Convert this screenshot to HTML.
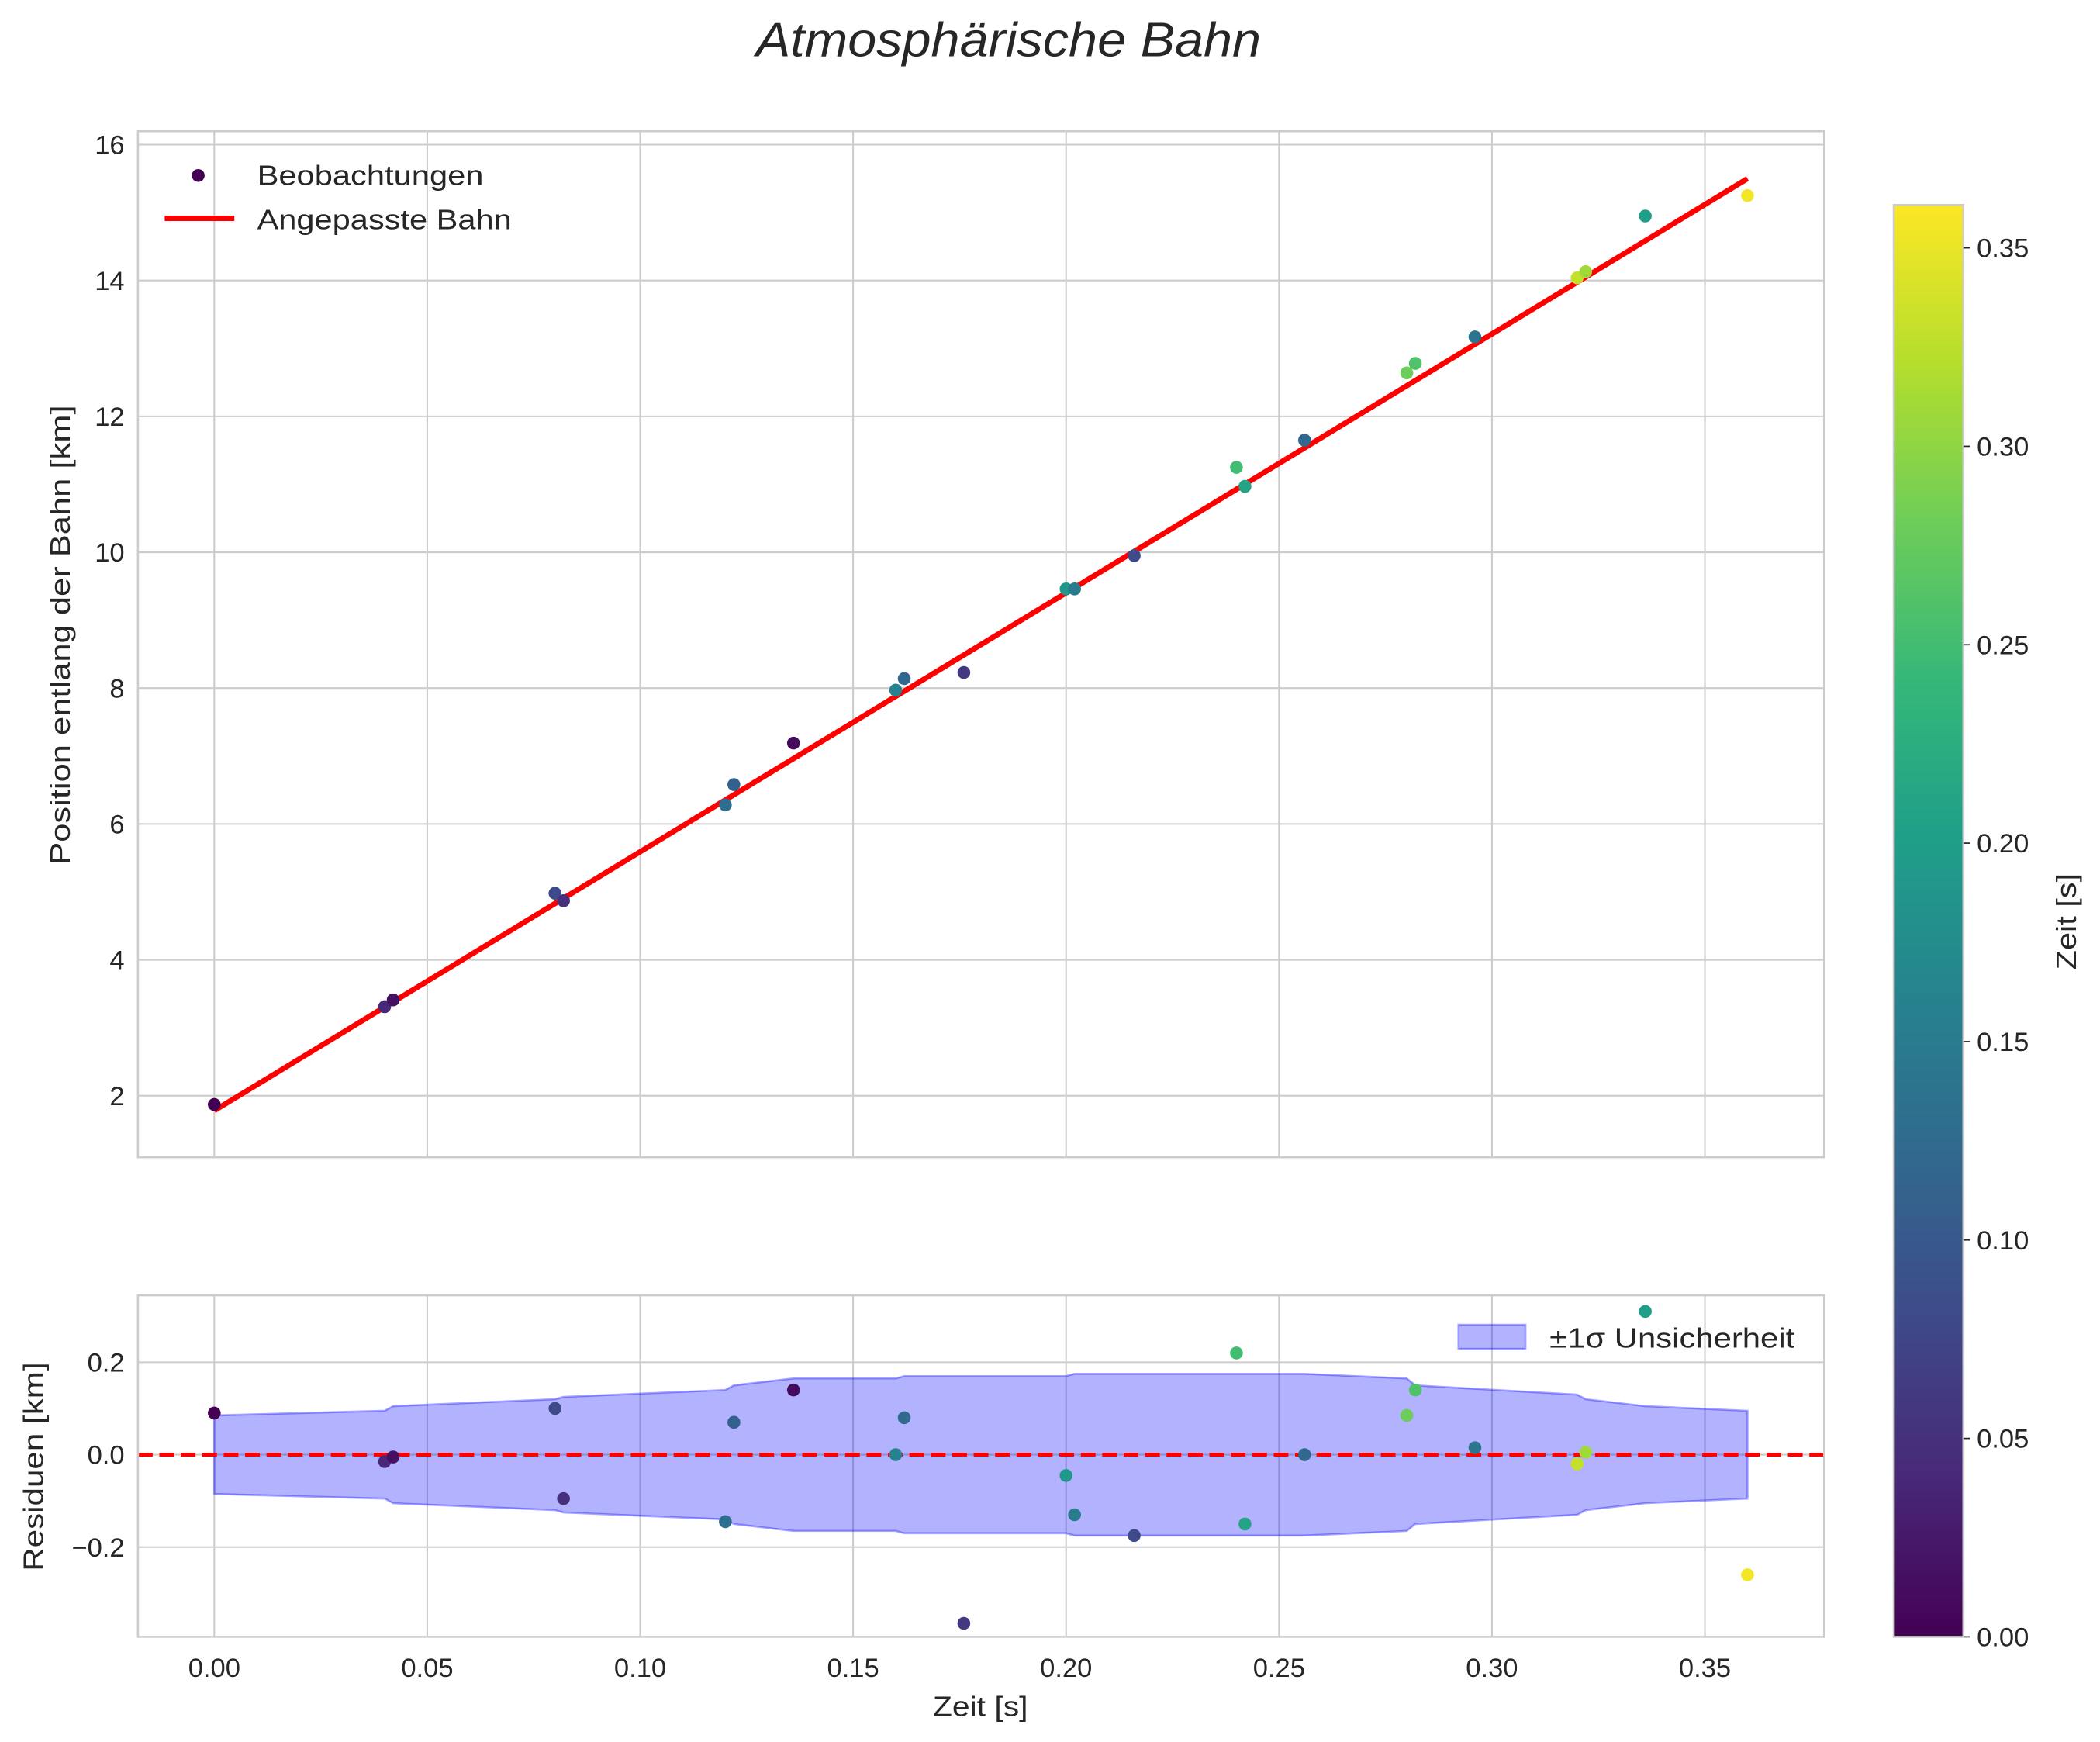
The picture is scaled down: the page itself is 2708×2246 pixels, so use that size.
<!DOCTYPE html>
<html><head><meta charset="utf-8"><style>
html,body{margin:0;padding:0;background:#fff;}
svg{display:block;font-family:"Liberation Sans",sans-serif;}
</style></head><body>
<svg id="chart" width="2708" height="2246" viewBox="0 0 1568 1300.5" preserveAspectRatio="none" xmlns="http://www.w3.org/2000/svg">
<text x="753" y="42" text-anchor="middle" font-size="36" font-style="italic" fill="#262626" textLength="377" lengthAdjust="spacingAndGlyphs">Atmosphärische Bahn</text>
<g id="main"></g>
<g id="resid"></g>
<g id="cbar"></g>
</svg>
<script>
const times=[0.000,0.040,0.042,0.080,0.082,0.120,0.122,0.136,0.160,0.162,0.176,0.200,0.202,0.216,0.240,0.242,0.256,0.280,0.282,0.296,0.320,0.322,0.336,0.360];
const positions=[1.87,3.31,3.41,4.98,4.87,6.28,6.58,7.19,7.97,8.14,8.23,9.46,9.46,9.95,11.25,10.97,11.65,12.64,12.78,13.17,14.04,14.13,14.95,15.25];
const residuals=[0.09,-0.015,-0.005,0.10,-0.095,-0.145,0.07,0.14,0.00,0.08,-0.365,-0.045,-0.13,-0.175,0.22,-0.15,0.00,0.085,0.14,0.015,-0.02,0.005,0.31,-0.26];
const colorVals=[0.0,0.04,0.015,0.08,0.05,0.13,0.11,0.01,0.16,0.12,0.06,0.19,0.15,0.08,0.25,0.21,0.12,0.28,0.26,0.14,0.33,0.31,0.20,0.355];
const fitT=[0,0.36];
const fitY=[1.78,15.5];
const bandT=[0,0.04,0.042,0.08,0.082,0.12,0.122,0.136,0.16,0.162,0.2,0.202,0.256,0.28,0.282,0.32,0.322,0.336,0.36];
const bandW=[0.085,0.095,0.105,0.12,0.125,0.14,0.15,0.165,0.165,0.17,0.17,0.175,0.175,0.165,0.15,0.13,0.12,0.105,0.095];
const xTicks=[0,0.05,0.1,0.15,0.2,0.25,0.3,0.35];
const yTicks=[2,4,6,8,10,12,14,16];
const rTicks=[-0.2,0,0.2];
const cTicks=[0,0.05,0.1,0.15,0.2,0.25,0.3,0.35];
const cMax=0.361;

const NS='http://www.w3.org/2000/svg';
function mk(p,tag,at,txt){const e=document.createElementNS(NS,tag);for(const k in at)e.setAttribute(k,at[k]);if(txt!==undefined)e.textContent=txt;p.appendChild(e);return e;}
const X=v=>160+v*3180;
const Y=v=>818-(v-2)*50.714;
const R=v=>1086-v*345;
const C=v=>1222-v*2962.7;
const VIR=[[68,1,84],[72,40,120],[62,74,137],[49,104,142],[38,130,142],[31,158,137],[53,183,121],[109,205,89],[180,222,44],[253,231,37]];
function vir(t){t=Math.max(0,Math.min(1,t))*9;const i=Math.min(8,Math.floor(t)),f=t-i;const a=VIR[i],b=VIR[i+1];return 'rgb('+a.map((c,k)=>Math.round(c+(b[k]-c)*f)).join(',')+')';}
const fmt2=v=>v.toFixed(2);
const TF=20;

// main
const m=document.getElementById('main');
const L=103,Rr=1362;
xTicks.forEach(v=>{const g=mk(m,'line',{x1:X(v),x2:X(v),y1:98,y2:864,stroke:'#cccccc','stroke-width':1.2});});
yTicks.forEach(v=>{const g=mk(m,'line',{x1:L,x2:Rr,y1:Y(v),y2:Y(v),stroke:'#cccccc','stroke-width':1.2});
const t=mk(m,'text',{x:93,y:Y(v)+7,'text-anchor':'end','font-size':TF,fill:'#262626'},String(v));});
let fl=mk(m,'line',{x1:X(fitT[0]),y1:Y(fitY[0]),x2:X(fitT[1]),y2:Y(fitY[1]),stroke:'#ff0000','stroke-width':4});

times.forEach((t,i)=>{const c=mk(m,'circle',{cx:X(t),cy:Y(positions[i]),r:4.8,fill:vir(colorVals[i]/cMax)});});
mk(m,'rect',{x:L,y:98,width:Rr-L,height:766,fill:'none',stroke:'#cccccc','stroke-width':1.5});
let yl=mk(m,'text',{transform:'translate(52,474) rotate(-90)','text-anchor':'middle','font-size':21,fill:'#262626',textLength:343,lengthAdjust:'spacingAndGlyphs'},'Position entlang der Bahn [km]');

let lg=mk(m,'g',{});
mk(lg,'circle',{cx:148,cy:131,r:4.8,fill:'#440154'});
mk(lg,'text',{x:192,y:138,'font-size':21,fill:'#262626',textLength:169,lengthAdjust:'spacingAndGlyphs'},'Beobachtungen');
mk(lg,'line',{x1:123,x2:175,y1:163,y2:163,stroke:'#ff0000','stroke-width':4});
mk(lg,'text',{x:192,y:171,'font-size':21,fill:'#262626',textLength:190,lengthAdjust:'spacingAndGlyphs'},'Angepasste Bahn');

// residuals
const r=document.getElementById('resid');
xTicks.forEach(v=>{const g=mk(r,'line',{x1:X(v),x2:X(v),y1:967,y2:1222,stroke:'#cccccc','stroke-width':1.2});
const t=mk(r,'text',{x:X(v),y:1252,'text-anchor':'middle','font-size':TF,fill:'#262626'},fmt2(v));});
rTicks.forEach(v=>{const g=mk(r,'line',{x1:L,x2:Rr,y1:R(v),y2:R(v),stroke:'#cccccc','stroke-width':1.2});
const t=mk(r,'text',{x:93,y:R(v)+7,'text-anchor':'end','font-size':TF,fill:'#262626'},(v<0?'\u2212':'')+Math.abs(v).toFixed(1));});
let pts=bandT.map((t,i)=>X(t)+','+R(bandW[i])).concat(bandT.slice().reverse().map((t,i)=>X(t)+','+R(-bandW[bandT.length-1-i])));
let band=mk(r,'polygon',{points:pts.join(' '),fill:'rgba(0,0,255,0.3)',stroke:'rgba(0,0,255,0.35)','stroke-width':1.5});

let zl=mk(r,'line',{x1:L,x2:Rr,y1:R(0),y2:R(0),stroke:'#ff0000','stroke-width':2.8,'stroke-dasharray':'11,5'});

times.forEach((t,i)=>{const c=mk(r,'circle',{cx:X(t),cy:R(residuals[i]),r:4.8,fill:vir(colorVals[i]/cMax)});});
mk(r,'rect',{x:L,y:967,width:Rr-L,height:255,fill:'none',stroke:'#cccccc','stroke-width':1.5});
let rl=mk(r,'text',{transform:'translate(32,1095) rotate(-90)','text-anchor':'middle','font-size':21,fill:'#262626',textLength:156,lengthAdjust:'spacingAndGlyphs'},'Residuen [km]');

let xl=mk(r,'text',{x:732,y:1281,'text-anchor':'middle','font-size':21,fill:'#262626',textLength:71,lengthAdjust:'spacingAndGlyphs'},'Zeit [s]');

let lg2=mk(r,'g',{});
mk(lg2,'rect',{x:1089,y:989,width:50,height:18,fill:'rgba(0,0,255,0.3)',stroke:'rgba(0,0,255,0.35)','stroke-width':1.5});
mk(lg2,'text',{x:1157,y:1006,'font-size':21,fill:'#262626',textLength:183,lengthAdjust:'spacingAndGlyphs'},'\u00b11\u03c3 Unsicherheit');

// colorbar
const cb=document.getElementById('cbar');
const defs=mk(cb,'defs',{});const gr=mk(defs,'linearGradient',{id:'vg',x1:0,y1:1,x2:0,y2:0});
VIR.forEach((c,i)=>mk(gr,'stop',{offset:(i/9),'stop-color':'rgb('+c.join(',')+')'}));
mk(cb,'rect',{x:1414,y:153,width:52,height:1069,fill:'url(#vg)',stroke:'#cccccc','stroke-width':1.5});
cTicks.forEach(v=>{mk(cb,'line',{x1:1466,x2:1471,y1:C(v),y2:C(v),stroke:'#262626','stroke-width':1});
const t=mk(cb,'text',{x:1476,y:C(v)+7,'font-size':TF,fill:'#262626'},fmt2(v));});
let cl=mk(cb,'text',{transform:'translate(1550,688) rotate(-90)','text-anchor':'middle','font-size':21,fill:'#262626',textLength:72,lengthAdjust:'spacingAndGlyphs'},'Zeit [s]');

</script>
</body></html>
